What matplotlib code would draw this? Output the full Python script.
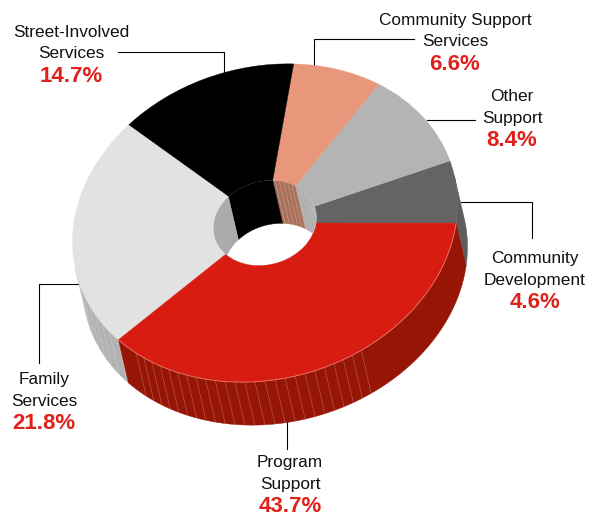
import numpy as np
import matplotlib
matplotlib.use('Agg')
from matplotlib import pyplot as plt
from matplotlib.patches import Circle
from matplotlib.transforms import Affine2D

# printed labels, going counter-clockwise from the right hand side
labels = ['Community\nDevelopment', 'Other\nSupport', 'Community Support\nServices',
          'Street-Involved\nServices', 'Family\nServices', 'Program\nSupport']
percent = [4.6, 8.4, 6.6, 14.7, 21.8, 43.7]
# wedge sizes as measured on the drawing, they don't follow the printed numbers exactly
drawn_share = [6.4, 10.47, 7.67, 14.92, 23.67, 36.87]

top_colors = ['#646464', '#B4B4B4', '#E8977A', '#000000', '#E2E2E2', '#D81C12']
outer_wall = ['#5E5E5E', '#A0A0A0', '#C07A60', '#000000', '#B2B2B2', '#961505']
inner_wall = ['#8A8A8A', '#ABABAB', '#A9705A', '#000000', '#ABABAB', '#961505']

# baseline of the first text line
label_xy = [(535, 263), (512, 101), (455, 25), (71, 37), (44, 384), (290, 467)]
leaders = [[(461, 202), (532, 202), (532, 238)],
           [(427, 120), (475, 120)],
           [(414, 39), (314, 39), (314, 69)],
           [(118, 52), (224, 52), (224, 72)],
           [(80, 284), (39, 284), (39, 363)],
           [(287, 422), (287, 449)]]

W, H = 589, 515
CX, CY = 265, 223
HOLE = 0.268
SHIFT = (10, 43)        # bottom face offset in pixels
TANGENT = 10.4          # where the side wall starts to be visible
START = -6.9

# unit circle -> top face, the ellipse is a bit tilted in the original
tilt = Affine2D.from_values(192.5, -19, 0, -158, CX, CY)


def ring(deg, r):
    t = np.radians(deg)
    return tilt.transform(np.c_[r * np.cos(t), r * np.sin(t)])


def draw_wall(ax, t1, t2, r, color, zorder, clip=None):
    p = ring(np.linspace(t1, t2, 60), r)
    xs = np.r_[p[:, 0], p[::-1, 0] + SHIFT[0]]
    ys = np.r_[p[:, 1], p[::-1, 1] + SHIFT[1]]
    patch = ax.fill(xs, ys, color=color, lw=0.3, zorder=zorder)[0]
    if clip is not None:
        patch.set_clip_path(clip)


def draw_facets(ax, t1, t2, r, zorder, step=3.0, clip=None, alpha=0.28):
    for (x, y) in ring(np.arange(t1, t2, step), r):
        line = ax.plot([x, x + SHIFT[0]], [y, y + SHIFT[1]], color='white', lw=0.5,
                       alpha=alpha, zorder=zorder, solid_capstyle='butt')[0]
        if clip is not None:
            line.set_clip_path(clip)


fig = plt.figure(figsize=(W / 100, H / 100), dpi=100)
ax = fig.add_axes([0, 0, 1, 1])

wedges, _ = ax.pie(drawn_share, colors=top_colors, startangle=START, counterclock=True, radius=1,
                   wedgeprops=dict(width=1 - HOLE, linewidth=0.3, zorder=5))
for i, w in enumerate(wedges):
    w.set_edgecolor(top_colors[i])
    w.set_transform(tilt + ax.transData)

# pie() asks for equal aspect and its own limits, everything here is in pixels
ax.set_aspect('auto')
ax.set_xlim(0, W)
ax.set_ylim(H, 0)
ax.axis('off')

hole_clip = Circle((0, 0), HOLE, transform=tilt + ax.transData)

for i, w in enumerate(wedges):
    t1, t2 = w.theta1, w.theta2
    # outer wall, front part only (top face hides the rest anyway)
    for lo, hi in [(t1, min(t2, TANGENT)), (max(t1, 180 + TANGENT), t2)]:
        if hi > lo:
            draw_wall(ax, lo, hi, 1, outer_wall[i], 2)
    # inner wall, only the back of the hole can be seen
    lo, hi = max(t1, TANGENT), min(t2, 180 + TANGENT)
    if hi > lo:
        draw_wall(ax, lo, hi, HOLE, inner_wall[i], 6, clip=hole_clip)
        if i in (1, 2):
            draw_facets(ax, lo, hi, HOLE, 7, step=5.0, clip=hole_clip)

# facet lines on the front wall
draw_facets(ax, 192, wedges[4].theta2, 1, 3, step=4.0)
draw_facets(ax, 228, 301, 1, 3, step=3.0)

# thin light edge on the red face
p = ring(np.linspace(wedges[5].theta1, wedges[5].theta2, 200), 1)
ax.plot(p[:, 0], p[:, 1], color='#EA7A6C', lw=0.6, zorder=6)

# labels and leader lines
for i in range(len(labels)):
    lx, ly = label_xy[i]
    first, second = labels[i].split('\n')
    ax.text(lx, ly, first, ha='center', va='baseline', fontsize=12.4, color='#111111',
            family='Liberation Sans')
    ax.text(lx, ly + 21.5, second, ha='center', va='baseline', fontsize=12.4, color='#111111',
            family='Liberation Sans')
    ax.text(lx, ly + 45, f'{percent[i]}%', ha='center', va='baseline', fontsize=16,
            fontweight='bold', color='#E0201B', family='Liberation Sans')
    pts = np.array(leaders[i])
    ax.plot(pts[:, 0], pts[:, 1], color='black', lw=0.8, solid_joinstyle='miter', zorder=1)

fig.savefig('out.png', dpi=100, facecolor='white')
